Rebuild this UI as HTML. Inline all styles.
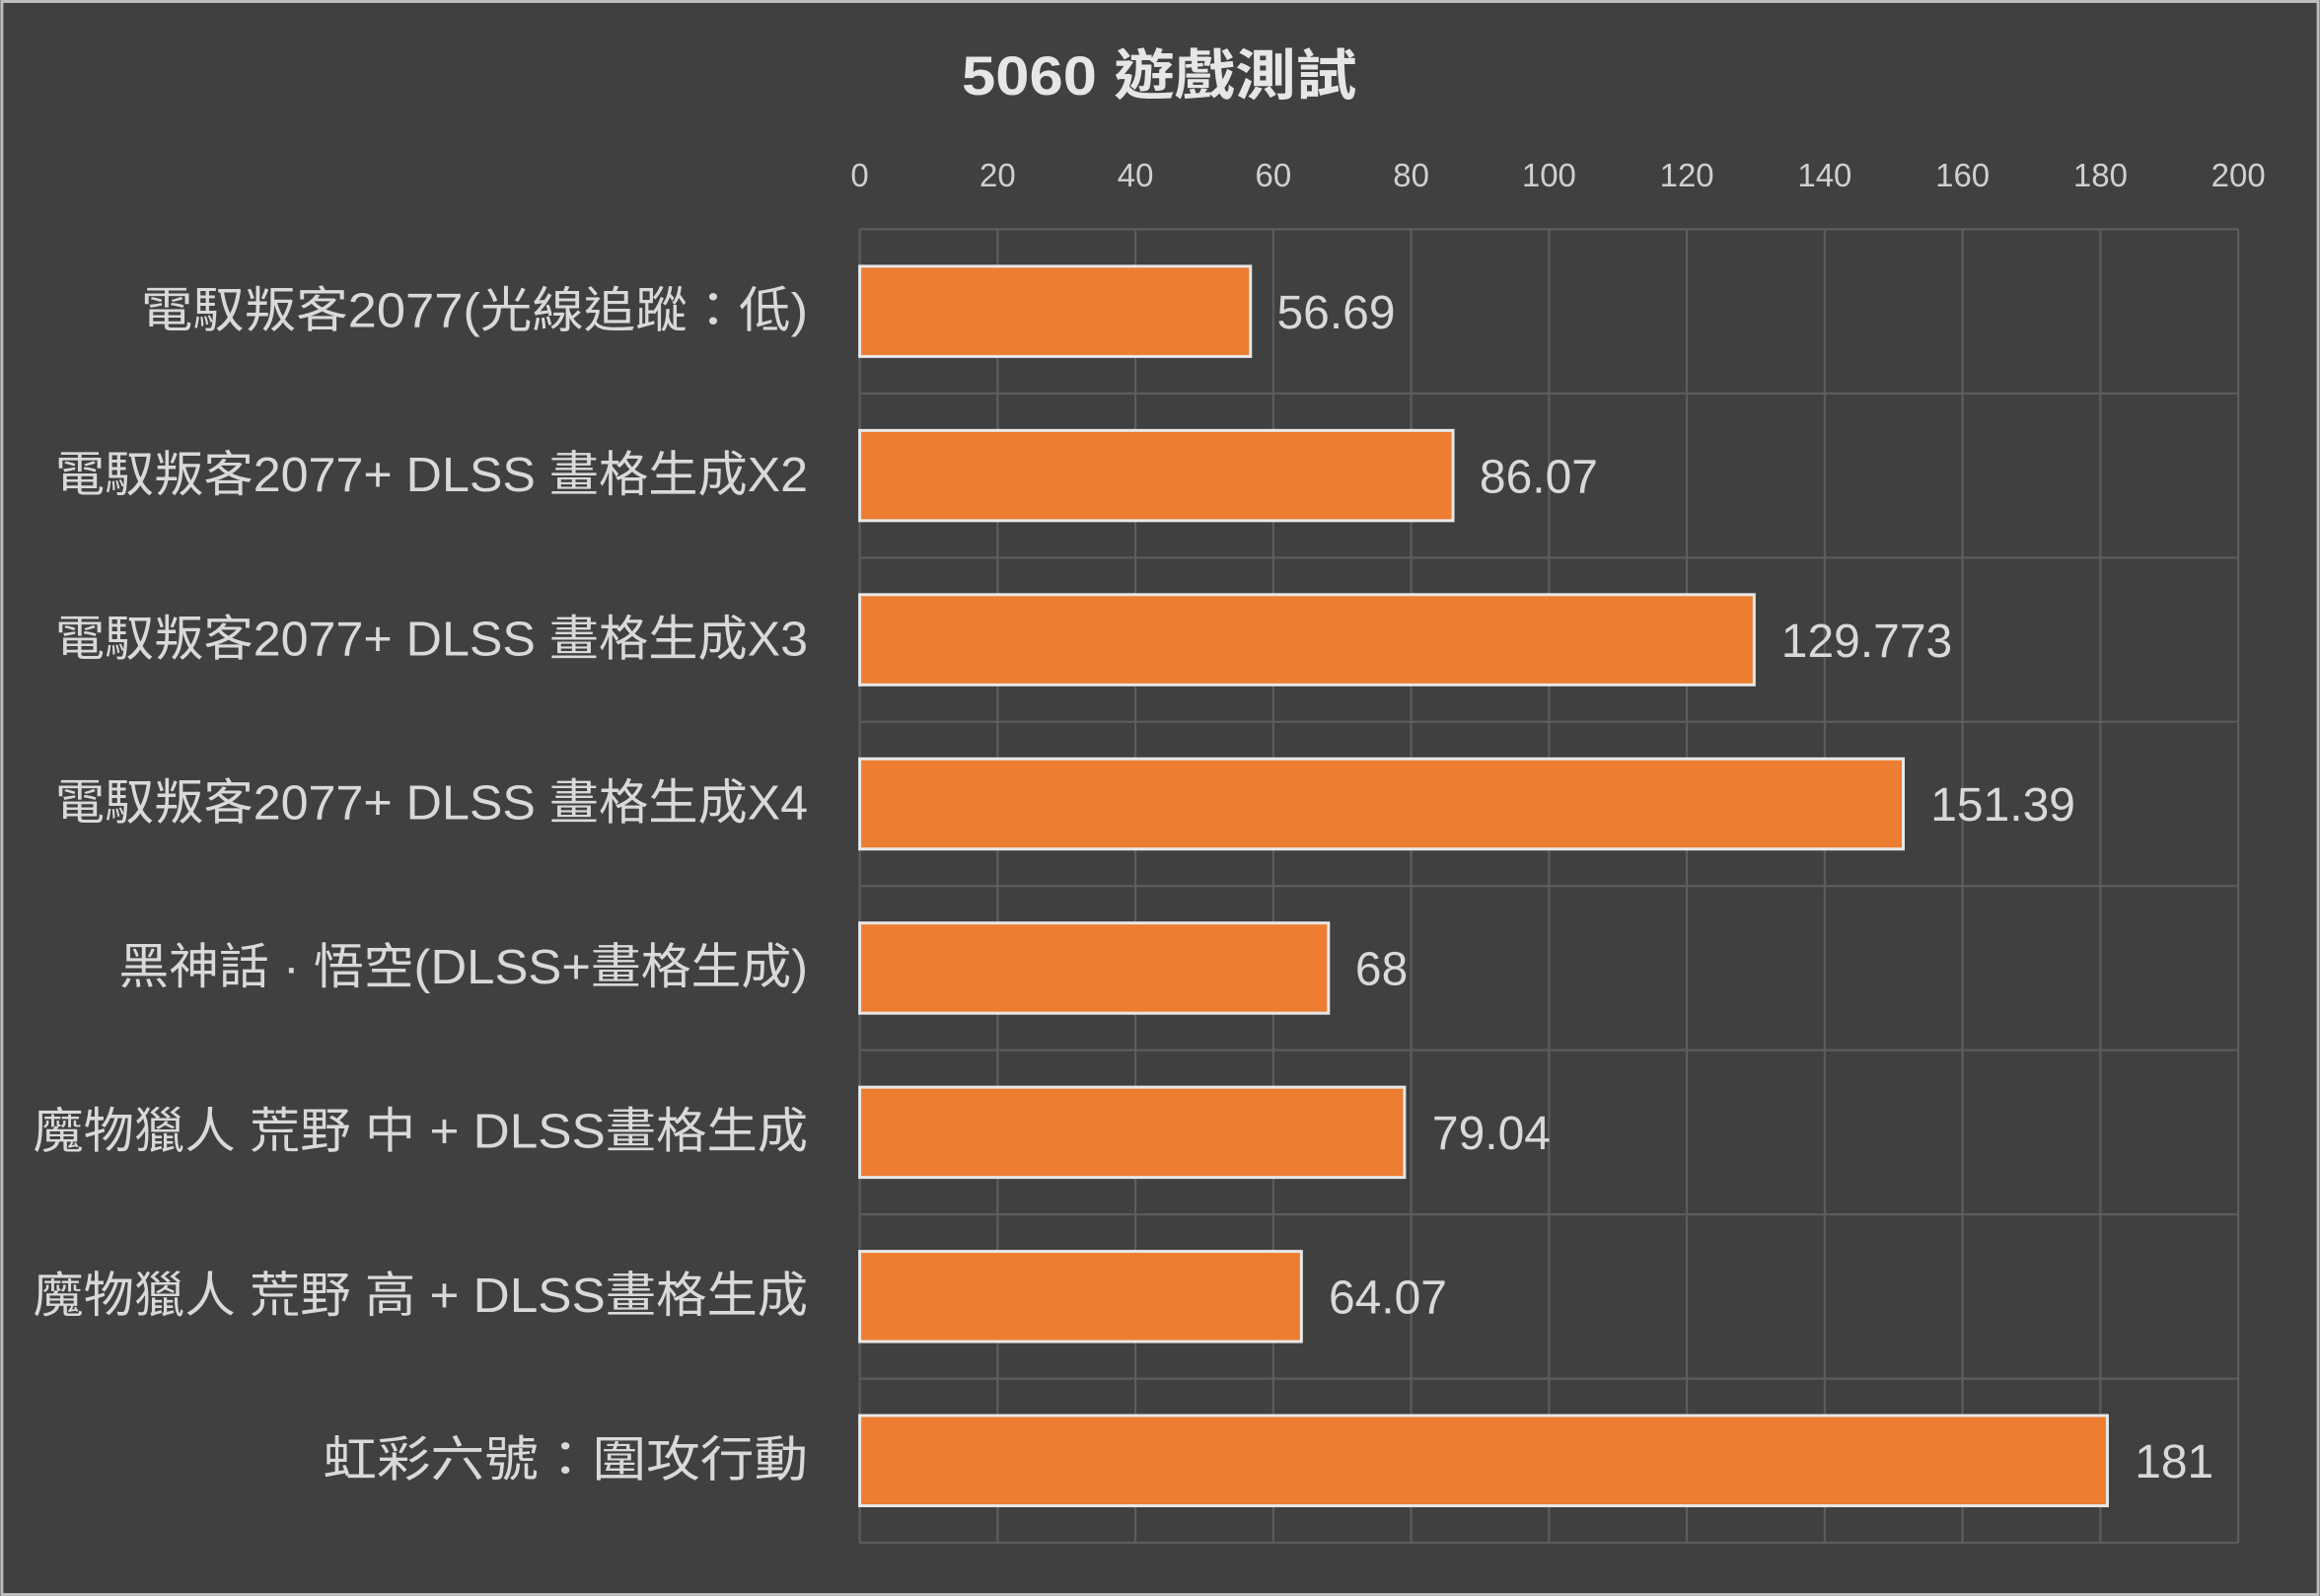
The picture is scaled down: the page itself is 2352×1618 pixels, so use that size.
<!DOCTYPE html>
<html><head><meta charset="utf-8"><style>
html,body{margin:0;padding:0;background:#404040}
svg{display:block}
text{font-family:"Liberation Sans","Noto Sans CJK TC",sans-serif}
</style></head><body>
<svg width="2352" height="1618" viewBox="0 0 1568 1079" xmlns="http://www.w3.org/2000/svg">
<rect x="0" y="0" width="1568" height="1079" fill="#404040"/>
<rect x="1" y="1" width="1566" height="1077" fill="none" stroke="#bdbdbd" stroke-width="2"/>
<text x="650" y="64" textLength="267" lengthAdjust="spacingAndGlyphs" font-size="37" font-weight="bold" fill="#e6e6e6">5060 遊戲測試</text>
<g stroke="#5c5c5c" stroke-width="1.5">
<line x1="581" y1="155" x2="581" y2="1043"/>
<line x1="674.2" y1="155" x2="674.2" y2="1043"/>
<line x1="767.4" y1="155" x2="767.4" y2="1043"/>
<line x1="860.6" y1="155" x2="860.6" y2="1043"/>
<line x1="953.8" y1="155" x2="953.8" y2="1043"/>
<line x1="1047" y1="155" x2="1047" y2="1043"/>
<line x1="1140.2" y1="155" x2="1140.2" y2="1043"/>
<line x1="1233.4" y1="155" x2="1233.4" y2="1043"/>
<line x1="1326.6" y1="155" x2="1326.6" y2="1043"/>
<line x1="1419.8" y1="155" x2="1419.8" y2="1043"/>
<line x1="1513" y1="155" x2="1513" y2="1043"/>
<line x1="581" y1="155" x2="1513" y2="155"/>
<line x1="581" y1="266" x2="1513" y2="266"/>
<line x1="581" y1="377" x2="1513" y2="377"/>
<line x1="581" y1="488" x2="1513" y2="488"/>
<line x1="581" y1="599" x2="1513" y2="599"/>
<line x1="581" y1="710" x2="1513" y2="710"/>
<line x1="581" y1="821" x2="1513" y2="821"/>
<line x1="581" y1="932" x2="1513" y2="932"/>
<line x1="581" y1="1043" x2="1513" y2="1043"/>
</g>
<g font-size="22" fill="#d0d0d0" text-anchor="middle">
<text x="581" y="126">0</text><text x="674.2" y="126">20</text><text x="767.4" y="126">40</text>
<text x="860.6" y="126">60</text><text x="953.8" y="126">80</text><text x="1047" y="126">100</text>
<text x="1140.2" y="126">120</text><text x="1233.4" y="126">140</text><text x="1326.6" y="126">160</text>
<text x="1419.8" y="126">180</text><text x="1513" y="126">200</text>
</g>
<g fill="#ED7D31" stroke="#e8e8e8" stroke-width="2">
<rect x="581" y="180" width="264.2" height="61"/>
<rect x="581" y="291" width="401.1" height="61"/>
<rect x="581" y="402" width="604.7" height="61"/>
<rect x="581" y="513" width="705.5" height="61"/>
<rect x="581" y="624" width="316.9" height="61"/>
<rect x="581" y="735" width="368.3" height="61"/>
<rect x="581" y="846" width="298.6" height="61"/>
<rect x="581" y="957" width="843.5" height="61"/>
</g>
<g font-size="32" fill="#d9d9d9">
<text x="863" y="222">56.69</text>
<text x="1000" y="333">86.07</text>
<text x="1204" y="444">129.773</text>
<text x="1305" y="555">151.39</text>
<text x="916" y="666">68</text>
<text x="968" y="777">79.04</text>
<text x="898" y="888">64.07</text>
<text x="1443" y="999">181</text>
</g>
<g font-size="33" fill="#d9d9d9" lengthAdjust="spacingAndGlyphs">
<text x="95" y="221" textLength="451" lengthAdjust="spacingAndGlyphs">電馭叛客2077(光線追蹤：低)</text>
<text x="37" y="332" textLength="509" lengthAdjust="spacingAndGlyphs">電馭叛客2077+ DLSS 畫格生成X2</text>
<text x="37" y="443" textLength="509" lengthAdjust="spacingAndGlyphs">電馭叛客2077+ DLSS 畫格生成X3</text>
<text x="37" y="554" textLength="509" lengthAdjust="spacingAndGlyphs">電馭叛客2077+ DLSS 畫格生成X4</text>
<text x="80" y="665" textLength="466" lengthAdjust="spacingAndGlyphs">黑神話 · 悟空(DLSS+畫格生成)</text>
<text x="22" y="776" textLength="524" lengthAdjust="spacingAndGlyphs">魔物獵人 荒野 中 + DLSS畫格生成</text>
<text x="22" y="887" textLength="524" lengthAdjust="spacingAndGlyphs">魔物獵人 荒野 高 + DLSS畫格生成</text>
<text x="218" y="998" textLength="328" lengthAdjust="spacingAndGlyphs">虹彩六號：圍攻行動</text>
</g>
</svg>
</body></html>
